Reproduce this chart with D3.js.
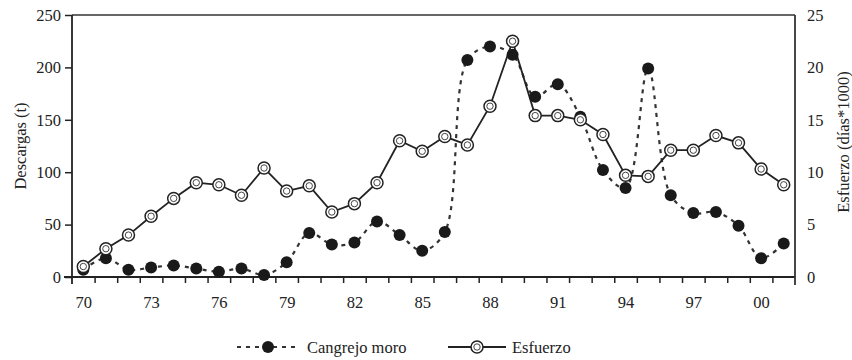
<!DOCTYPE html>
<html>
<head>
<meta charset="utf-8">
<script src="https://cdn.jsdelivr.net/npm/d3@7"></script>
<style>
  body { margin: 0; background: #fff; }
</style>
</head>
<body>
<div id="chart"></div>
<script>
// años 1970-2001
const years = d3.range(1970, 2002);
// Cangrejo moro: descargas (t)
const cangrejo = [7, 18, 7, 9, 11, 8, 5, 8, 2, 14, 42, 31, 33, 53, 40, 25, 43, 207, 220, 212,
  172, 184, 153, 102, 85, 199, 78, 61, 62, 49, 18, 32];
// Esfuerzo (días*1000)
const esfuerzo = [1.0, 2.7, 4.0, 5.8, 7.5, 9.0, 8.8, 7.8, 10.4, 8.2, 8.7, 6.2, 7.0, 9.0, 13.0, 12.0,
  13.4, 12.6, 16.3, 22.5, 15.4, 15.4, 15.0, 13.6, 9.7, 9.6, 12.1, 12.1, 13.5, 12.8, 10.3, 8.8];
const xLabelYears = [1970, 1973, 1976, 1979, 1982, 1985, 1988, 1991, 1994, 1997, 2000];
const leftTicks = [0, 50, 100, 150, 200, 250];
const rightTicks = [0, 5, 10, 15, 20, 25];

const width = 852, height = 360;
const m = { left: 72, right: 795, top: 15, bottom: 277 };

const svg = d3.select("#chart").append("svg")
  .attr("width", width).attr("height", height);

const x = d3.scaleLinear().domain([1969.5, 2001.5]).range([m.left, m.right]);
const yL = d3.scaleLinear().domain([0, 250]).range([m.bottom, m.top]);
const yR = d3.scaleLinear().domain([0, 25]).range([m.bottom, m.top]);

// marco
svg.append("line").attr("x1", m.left).attr("x2", m.right).attr("y1", m.top).attr("y2", m.top)
  .attr("stroke", "#333").attr("stroke-width", 1.5);

// eje x: marcas entre años
const boundaries = d3.range(1970.5, 2001.5, 1);
const xTicks = svg.append("g").attr("transform", `translate(0,${m.bottom})`)
  .call(d3.axisBottom(x).tickValues(boundaries).tickSize(6).tickFormat("").tickSizeOuter(0));
xTicks.select(".domain").attr("stroke", "#222").attr("stroke-width", 1.8)
  .attr("d", `M${m.left - 8},0H${m.right}`);
xTicks.selectAll(".tick line").attr("stroke", "#222").attr("stroke-width", 1.5);

const xLabels = svg.append("g").attr("transform", `translate(0,${m.bottom})`)
  .call(d3.axisBottom(x).tickValues(xLabelYears).tickSize(0).tickPadding(19)
    .tickFormat(d => String(d % 100).padStart(2, "0")));
xLabels.select(".domain").remove();

// eje izquierdo
const gL = svg.append("g").attr("transform", `translate(${m.left},0)`)
  .call(d3.axisLeft(yL).tickValues(leftTicks).tickSize(7).tickPadding(4).tickSizeOuter(0));
gL.select(".domain").attr("stroke", "#222").attr("stroke-width", 1.8)
  .attr("d", `M0,${m.top}V${m.bottom + 7}`);
gL.selectAll(".tick line").attr("stroke", "#222").attr("stroke-width", 1.5);

// eje derecho
const gR = svg.append("g").attr("transform", `translate(${m.right},0)`)
  .call(d3.axisRight(yR).tickValues(rightTicks).tickSize(0).tickPadding(12).tickSizeOuter(0));
gR.select(".domain").attr("stroke", "#333").attr("stroke-width", 1.8)
  .attr("d", `M0,${m.top}V${m.bottom + 8}`);

// títulos
svg.append("text").attr("transform", `translate(20,${(m.top + m.bottom) / 2}) rotate(-90)`)
  .attr("text-anchor", "middle").attr("dy", "0.35em").text("Descargas (t)");
svg.append("text").attr("transform", `translate(843,142) rotate(-90)`)
  .attr("text-anchor", "middle").attr("dy", "0.35em").text("Esfuerzo (días*1000)");

// series
const lineC = d3.line().x((d, i) => x(years[i])).y(d => yL(d)).curve(d3.curveCatmullRom.alpha(0.5));
const lineE = d3.line().x((d, i) => x(years[i])).y(d => yR(d));

svg.append("path").datum(cangrejo).attr("d", lineC)
  .attr("fill", "none").attr("stroke", "#333").attr("stroke-width", 2.2).attr("stroke-dasharray", "4,5");

svg.append("path").datum(esfuerzo).attr("d", lineE)
  .attr("fill", "none").attr("stroke", "#222").attr("stroke-width", 1.8);

svg.append("g").selectAll("circle").data(cangrejo).join("circle")
  .attr("cx", (d, i) => x(years[i])).attr("cy", d => yL(d)).attr("r", 6).attr("fill", "#1a1a1a");

const eMarks = svg.append("g").selectAll("g").data(esfuerzo).join("g")
  .attr("transform", (d, i) => `translate(${x(years[i])},${yR(d)})`);
eMarks.append("circle").attr("r", 6).attr("fill", "#fff").attr("stroke", "#222").attr("stroke-width", 1.5);
eMarks.append("circle").attr("r", 3.2).attr("fill", "none").attr("stroke", "#444").attr("stroke-width", 1);

// leyenda
const ly = 347;
const leg = svg.append("g");
leg.append("line").attr("x1", 237).attr("x2", 300).attr("y1", ly).attr("y2", ly)
  .attr("stroke", "#333").attr("stroke-width", 2.2).attr("stroke-dasharray", "4,5");
leg.append("circle").attr("cx", 268).attr("cy", ly).attr("r", 6).attr("fill", "#1a1a1a");
leg.append("text").attr("x", 307).attr("y", ly).attr("dy", "0.35em").text("Cangrejo moro");
leg.append("line").attr("x1", 448).attr("x2", 506).attr("y1", ly).attr("y2", ly)
  .attr("stroke", "#222").attr("stroke-width", 1.8);
leg.append("circle").attr("cx", 477).attr("cy", ly).attr("r", 6).attr("fill", "#fff").attr("stroke", "#222").attr("stroke-width", 1.5);
leg.append("circle").attr("cx", 477).attr("cy", ly).attr("r", 3.2).attr("fill", "none").attr("stroke", "#444").attr("stroke-width", 1);
leg.append("text").attr("x", 512).attr("y", ly).attr("dy", "0.35em").text("Esfuerzo");

// tipografía
svg.selectAll("text")
  .style("font-family", "'Liberation Serif'")
  .style("font-size", "16.5px")
  .style("fill", "#222");
</script>
</body>
</html>
